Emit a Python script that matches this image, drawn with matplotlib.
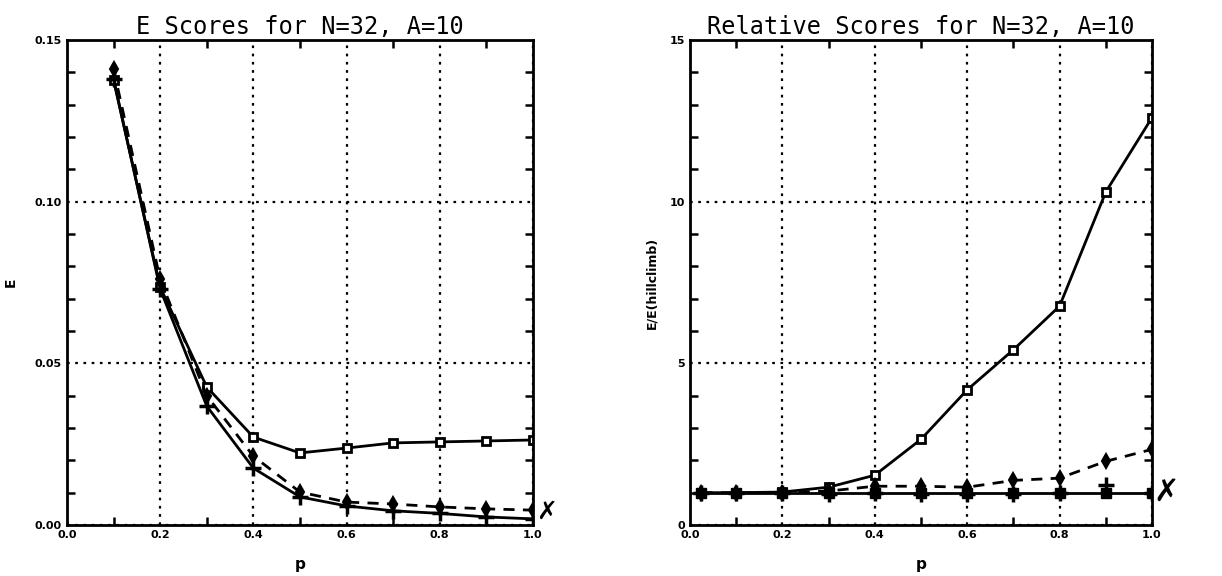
#!/usr/bin/env python3
"""E scores and relative scores vs p for N=32, A=10."""

import matplotlib
matplotlib.use('Agg')
import matplotlib.pyplot as plt
from matplotlib.ticker import MultipleLocator

# Left panel data
p_left = [0.1, 0.2, 0.3, 0.4, 0.5, 0.6, 0.7, 0.8, 0.9, 1.0]
e_square = [0.1376, 0.0736, 0.0427, 0.0272, 0.0223, 0.0238, 0.0254, 0.0257, 0.0260, 0.0263]
e_diamond = [0.1410, 0.0760, 0.0400, 0.0213, 0.0102, 0.0071, 0.0065, 0.0056, 0.0050, 0.0046]
e_plus = [0.1380, 0.0730, 0.0368, 0.0176, 0.0087, 0.0059, 0.0044, 0.0036, 0.0025, 0.0019]

# Right panel data
p_right = [0.025, 0.1, 0.2, 0.3, 0.4, 0.5, 0.6, 0.7, 0.8, 0.9, 1.0]
r_square = [1.0, 1.0, 1.02, 1.17, 1.54, 2.65, 4.18, 5.42, 6.77, 10.3, 12.6]
r_diamond = [1.0, 1.0, 1.0, 1.05, 1.2, 1.2, 1.17, 1.38, 1.45, 1.97, 2.34]
r_base = [1.0, 1.0, 1.0, 1.0, 1.0, 1.0, 1.0, 1.0, 1.0, 1.0, 1.0]
r_plus = [1.0, 1.0, 1.0, 0.97, 1.0, 0.97, 0.95, 0.95, 1.0, 1.25, 1.0]

TITLE_FONT = 'DejaVu Sans Mono'

def style_axes(ax, ymax, ymajor, yminor, fmt):
    ax.set_xlim(0, 1.0)
    ax.set_ylim(0, ymax)
    ax.xaxis.set_major_locator(MultipleLocator(0.2))
    ax.xaxis.set_minor_locator(MultipleLocator(0.1))
    ax.yaxis.set_major_locator(MultipleLocator(ymajor))
    ax.yaxis.set_minor_locator(MultipleLocator(yminor))
    ax.yaxis.set_major_formatter(fmt)
    ax.grid(True, which='major', color='black', linestyle=(0, (1.2, 2.5)), linewidth=1.6)
    ax.tick_params(which='both', direction='in', top=True, right=True, width=1.8)
    ax.tick_params(which='major', length=0)
    ax.tick_params(which='minor', length=6)
    ax.tick_params(labelsize=8)
    for lab in ax.get_xticklabels() + ax.get_yticklabels():
        lab.set_fontweight('bold')
    for s in ax.spines.values():
        s.set_linewidth(2)
    ax.set_xlabel('p', fontsize=11, fontweight='bold', labelpad=12)

fig = plt.figure(figsize=(12.22, 5.76), dpi=100)
ax1 = fig.add_axes([0.0548, 0.0885, 0.3813, 0.842])
ax2 = fig.add_axes([0.5646, 0.0885, 0.3781, 0.842])

lw = 2
ax1.plot(p_left, e_square, color='black', lw=lw, marker='s', ms=6, mfc='white', mew=2)
ax1.plot(p_left, e_diamond, color='black', lw=lw, ls=(0, (4, 3)), marker='d', ms=7, mew=1.5)
ax1.plot(p_left, e_plus, color='black', lw=lw, marker='+', ms=12, mew=2.5)
style_axes(ax1, 0.15, 0.05, 0.01, '{x:.2f}')
ax1.set_title('E Scores for N=32, A=10', fontsize=17, family=TITLE_FONT, pad=4)
ax1.set_ylabel('E', fontsize=10, fontweight='bold', labelpad=12)
ax1.text(1.03, 0.004, '\u2717', fontsize=18, transform=ax1.transData, clip_on=False,
         ha='center', va='center')

ax2.plot(p_right, r_square, color='black', lw=lw, marker='s', ms=6, mfc='white', mew=2)
ax2.plot(p_right, r_diamond, color='black', lw=lw, ls=(0, (4, 3)), marker='d', ms=7, mew=1.5)
ax2.plot(p_right, r_base, color='black', lw=lw, marker='s', ms=7)
ax2.plot(p_right, r_plus, color='black', lw=0, marker='+', ms=12, mew=2.5)
style_axes(ax2, 15, 5, 1, '{x:.0f}')
ax2.set_title('Relative Scores for N=32, A=10', fontsize=17, family=TITLE_FONT, pad=4)
ax2.set_ylabel('E/E(hillclimb)', fontsize=9, fontweight='bold', labelpad=8)
ax2.text(1.03, 1.0, '\u2717', fontsize=22, transform=ax2.transData, clip_on=False,
         ha='center', va='center')

fig.savefig('out.png', dpi=100)
plt.close(fig)
